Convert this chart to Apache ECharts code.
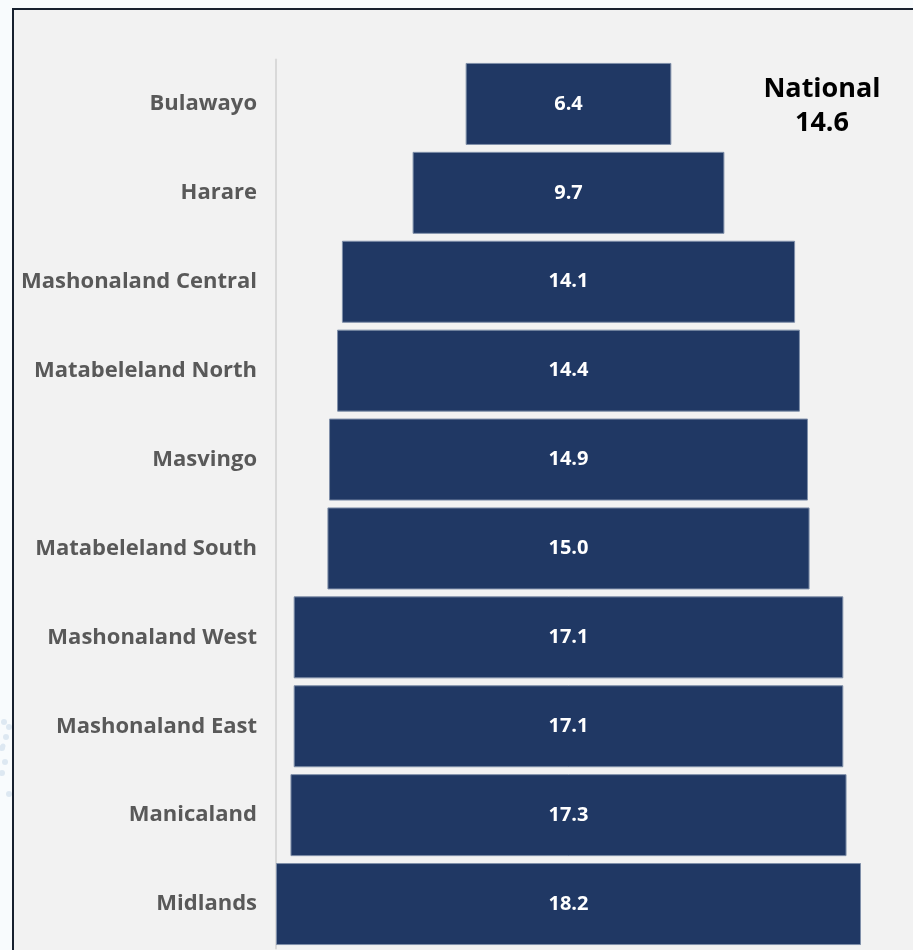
<!DOCTYPE html>
<html>
<head>
<meta charset="utf-8">
<script src="https://cdn.jsdelivr.net/npm/echarts@6/dist/echarts.min.js"></script>
<style>
  html, body { margin: 0; padding: 0; background: #f8fbfd; }
  #chart { width: 913px; height: 950px; }
</style>
</head>
<body>
<div id="chart"></div>
<script>
// Provinces, top to bottom
const provinces = [
  'Bulawayo', 'Harare', 'Mashonaland Central', 'Matabeleland North', 'Masvingo',
  'Matabeleland South', 'Mashonaland West', 'Mashonaland East', 'Manicaland', 'Midlands'
];
// Rate per province (%)
const rates = [6.4, 9.7, 14.1, 14.4, 14.9, 15.0, 17.1, 17.1, 17.3, 18.2];
const nationalLabel = 'National';
const nationalRate = 14.6;

const maxRate = Math.max(...rates);
// Invisible spacer so each bar is centred on the widest one
const spacer = rates.map(v => (maxRate - v) / 2);

const FONT = '"Open Sans", Lato, sans-serif';

// Faint decorative dots along the left margin
const dots = [[4, 722, 3], [9, 727, 3], [6, 737, 3], [2, 748, 3], [3, 746, 2.5],
              [5, 762, 3], [2, 773, 3], [9, 794, 3]].map(d => ({
  type: 'circle', silent: true, z: -20,
  shape: { cx: d[0], cy: d[1], r: d[2] },
  style: { fill: '#dde8f2' }
}));

const chart = echarts.init(document.getElementById('chart'), null, { renderer: 'canvas' });

chart.setOption({
  backgroundColor: '#f8fbfd',
  animation: false,
  graphic: dots.concat([
    {
      type: 'rect',
      z: -10,
      silent: true,
      shape: { x: 13, y: 9, width: 920, height: 960 },
      style: { fill: '#f2f2f2', stroke: '#17202e', lineWidth: 2 }
    },
    {
      type: 'text',
      x: 822,
      y: 106,
      style: {
        text: nationalLabel + '\n' + nationalRate.toFixed(1),
        fill: '#000000',
        font: 'bold 27px ' + FONT,
        align: 'center',
        verticalAlign: 'middle',
        lineHeight: 34
      }
    }
  ]),
  grid: { left: 276, right: 52, top: 59.5, bottom: 1.5, containLabel: false },
  xAxis: {
    type: 'value',
    min: 0,
    max: maxRate,
    show: false
  },
  yAxis: {
    type: 'category',
    data: provinces,
    inverse: true,
    axisLine: { show: true, lineStyle: { color: '#d9d9d9', width: 2 } },
    axisTick: { show: false },
    axisLabel: {
      margin: 19,
      color: '#595959',
      fontFamily: FONT,
      fontWeight: 'bold',
      fontSize: 22,
      padding: [5, 0, 0, 0]
    }
  },
  series: [
    {
      type: 'bar',
      stack: 'r',
      data: spacer,
      itemStyle: { color: 'transparent' },
      barWidth: 82,
      silent: true
    },
    {
      type: 'bar',
      stack: 'r',
      data: rates,
      barWidth: 82,
      itemStyle: { color: '#203864', borderColor: '#7f8fa9', borderWidth: 1 },
      label: {
        show: true,
        position: 'inside',
        color: '#ffffff',
        fontFamily: FONT,
        fontWeight: 'bold',
        fontSize: 20,
        padding: [4, 0, 0, 0],
        formatter: p => p.value.toFixed(1)
      }
    }
  ]
});
</script>
</body>
</html>
